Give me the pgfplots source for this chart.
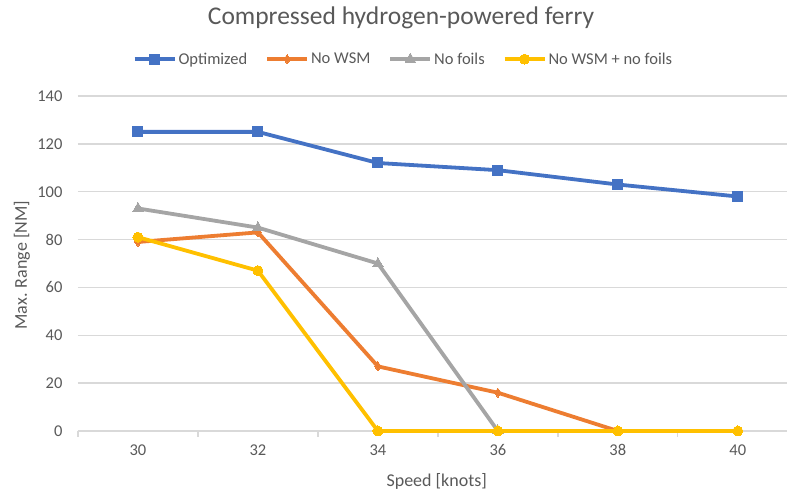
\documentclass[border=0pt]{standalone}
\usepackage{pgfplots}
\pgfplotsset{compat=1.18}
\usepackage{fontspec}
\setmainfont{Carlito}
\definecolor{cblue}{HTML}{4472C4}
\definecolor{corange}{HTML}{ED7D31}
\definecolor{cgray}{HTML}{A5A5A5}
\definecolor{cyellow}{HTML}{FFC000}
\definecolor{txt}{HTML}{595959}
\definecolor{grd}{HTML}{D9D9D9}
\begin{document}
\begin{tikzpicture}[x=1pt,y=1pt]
\path[use as bounding box] (0,0) rectangle (787,492);
\node[text=txt,font=\fontsize{25.5}{30}\selectfont] at (401,474) {Compressed hydrogen-powered ferry};
\begin{axis}[
  at={(78pt,61pt)}, anchor=south west,
  scale only axis, width=709pt, height=335pt,
  xmin=-0.5, xmax=5.41, ymin=0, ymax=140,
  axis line style={draw=none},
  ytick={0,20,...,140},
  xtick={0,1,2,3,4,5},
  xticklabels={30,32,34,36,38,40},
  ymajorgrids, major grid style={grd, line width=1.3pt},
  tick style={draw=none},
  ticklabel style={text=txt, font=\fontsize{16.5}{19}\selectfont},
  /pgf/number format/assume math mode=true,
  yticklabel style={xshift=-12pt},
  xticklabel style={yshift=-10pt},
  xlabel={Speed [knots]}, ylabel={Max. Range [NM]},
  label style={text=txt, font=\fontsize{18}{21}\selectfont},
  xlabel style={at={(axis description cs:0.506,-0.152)}, anchor=center},
  ylabel style={at={(axis description cs:-0.079,0.495)}, anchor=center, rotate=0},
  clip=false,
  legend columns=4,
  legend style={at={(0.459,1.110)}, anchor=center, draw=none, fill=none,
    font=\fontsize{16.5}{19}\selectfont, text=txt, inner sep=0pt,
    /tikz/every even column/.append style={column sep=16pt},
    nodes={inner xsep=2pt}},
  legend image code/.code={\draw[mark repeat=2,mark phase=2] plot coordinates {(0pt,0pt)(20pt,0pt)(40pt,0pt)};},
  every axis plot/.append style={line width=3.8pt},
]
\draw[grd, line width=1.3pt] (axis cs:-0.5,0) -- (axis cs:5.41,0);
\draw[grd, line width=1.3pt] (axis cs:-0.5,0) -- ([yshift=-6pt]axis cs:-0.5,0);
\draw[grd, line width=1.3pt] (axis cs:0.5,0) -- ([yshift=-6pt]axis cs:0.5,0);
\draw[grd, line width=1.3pt] (axis cs:1.5,0) -- ([yshift=-6pt]axis cs:1.5,0);
\draw[grd, line width=1.3pt] (axis cs:2.5,0) -- ([yshift=-6pt]axis cs:2.5,0);
\draw[grd, line width=1.3pt] (axis cs:3.5,0) -- ([yshift=-6pt]axis cs:3.5,0);
\draw[grd, line width=1.3pt] (axis cs:4.5,0) -- ([yshift=-6pt]axis cs:4.5,0);
\addplot[cblue, mark=square*, mark size=5pt, mark options={line width=0pt}] coordinates {(0,125)(1,125)(2,112)(3,109)(4,103)(5,98)};
\addlegendentry{Optimized}
\addplot[corange, mark=diamond*, mark size=4.5pt, mark options={line width=0pt}] coordinates {(0,79)(1,83)(2,27)(3,16)(4,0)(5,0)};
\addlegendentry{No WSM}
\addplot[cgray, mark=triangle*, mark size=6pt, mark options={line width=0pt}] coordinates {(0,93)(1,85)(2,70)(3,0)};
\addlegendentry{No foils}
\addplot[cyellow, mark=*, mark size=5pt, mark options={line width=0pt}] coordinates {(0,81)(1,67)(2,0)(3,0)(4,0)(5,0)};
\addlegendentry{No WSM + no foils}
\end{axis}
\end{tikzpicture}
\end{document}
